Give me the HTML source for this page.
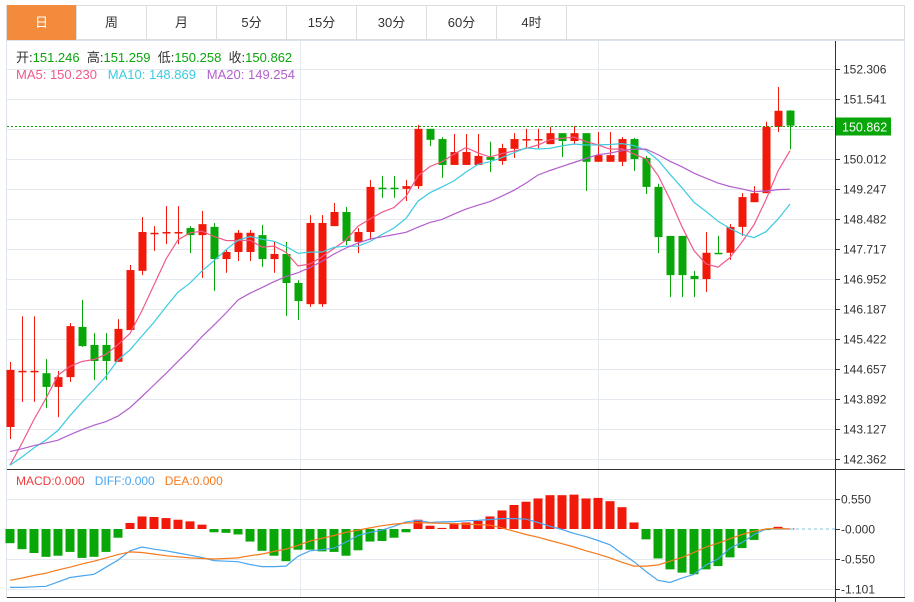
<!DOCTYPE html>
<html><head><meta charset="utf-8"><style>
body{margin:0;background:#fff;font-family:"Liberation Sans","Noto Sans CJK SC",sans-serif;}
#wrap{position:relative;width:914px;height:602px;overflow:hidden;}
.tab{position:absolute;top:5px;height:35px;width:70px;line-height:35px;text-align:center;font-size:13px;color:#333;border-right:1px solid #ddd;box-sizing:border-box;}
</style></head><body>
<div id="wrap">
<div style="position:absolute;left:6px;top:5px;width:899px;height:35px;border:1px solid #ddd;box-sizing:border-box;"></div>
<div class="tab" style="left:7px;background:#f28c3c;color:#fff;">日</div>
<div class="tab" style="left:77px">周</div>
<div class="tab" style="left:147px">月</div>
<div class="tab" style="left:217px">5分</div>
<div class="tab" style="left:287px">15分</div>
<div class="tab" style="left:357px">30分</div>
<div class="tab" style="left:427px">60分</div>
<div class="tab" style="left:497px">4时</div>
<svg id="svg" width="914" height="602" style="position:absolute;left:0;top:0"></svg>
</div>
<script>
const categories=[...Array(66).keys()];
const opens=[143.178,144.61,144.61,144.55,144.20,144.45,145.73,145.27,145.27,144.84,145.65,147.16,148.11,148.15,148.15,148.25,148.07,148.28,147.46,147.64,147.64,148.07,147.46,147.59,146.85,146.31,146.31,148.30,148.66,147.90,148.15,149.28,149.28,149.25,149.32,150.78,150.52,149.86,149.86,149.86,150.06,149.96,150.27,150.50,150.50,150.39,150.67,150.47,150.67,149.94,149.94,149.94,150.52,150.04,149.30,148.05,148.05,147.03,146.95,147.62,147.62,148.28,148.91,149.14,150.83,151.246];
const closes=[144.632,144.61,144.61,144.20,144.45,145.75,145.24,144.86,144.86,145.68,147.18,148.15,148.13,148.15,148.15,148.07,148.35,147.46,147.64,148.13,148.13,147.46,147.59,146.85,146.39,148.38,148.38,148.66,147.92,148.15,149.30,149.25,149.25,149.32,150.78,150.50,149.86,150.19,150.19,150.09,149.99,150.29,150.52,150.52,150.52,150.67,150.47,150.67,149.94,150.11,150.11,150.52,150.01,149.30,148.02,147.05,147.05,146.95,147.62,147.59,148.28,149.04,149.14,150.83,151.24,150.862];
const highs=[144.836,146.0,146.0,144.91,144.61,145.83,146.42,145.57,145.57,145.93,147.31,148.53,148.30,148.81,148.81,148.30,148.69,148.38,147.69,148.20,148.20,148.33,147.90,147.90,146.92,148.58,148.58,148.89,148.79,148.25,149.48,149.58,149.58,149.48,150.88,150.78,150.57,150.65,150.65,150.65,150.45,150.40,150.67,150.78,150.78,150.83,150.67,150.85,150.67,150.70,150.70,150.57,150.55,150.09,149.38,148.05,148.05,147.16,148.15,148.05,148.35,149.14,149.32,150.96,151.85,151.259];
const lows=[142.872,143.82,143.82,143.66,143.43,144.33,145.22,144.38,144.38,144.84,145.65,147.05,147.67,147.84,147.84,147.61,146.98,146.65,147.11,147.41,147.41,147.26,147.11,146.01,145.91,146.24,146.24,148.30,147.82,147.61,147.95,149.02,149.02,148.94,149.25,150.34,149.53,149.86,149.86,149.86,149.68,149.86,150.04,150.29,150.29,150.39,150.06,150.37,149.20,149.94,149.94,149.83,149.71,149.12,147.61,146.49,146.49,146.49,146.62,147.59,147.44,148.05,148.91,149.14,150.70,150.258];
const priorCloses=[143.2,143.0,142.8,143.1,142.9,142.7,142.6,143.0,142.9,142.8,142.5,142.3,142.2,142.0,142.0,141.8,141.6,141.5,141.5];
const priceTicks=[152.306,151.541,150.776,150.012,149.247,148.482,147.717,146.952,146.187,145.422,144.657,143.892,143.127,142.362];
const macdHist=[-0.26,-0.37,-0.44,-0.51,-0.49,-0.42,-0.53,-0.51,-0.42,-0.16,0.11,0.23,0.22,0.20,0.17,0.14,0.08,-0.06,-0.07,-0.10,-0.23,-0.40,-0.49,-0.59,-0.38,-0.38,-0.41,-0.42,-0.49,-0.39,-0.23,-0.22,-0.16,-0.06,0.17,0.06,0.02,0.09,0.12,0.15,0.23,0.34,0.44,0.50,0.56,0.62,0.62,0.63,0.56,0.57,0.51,0.40,0.12,-0.19,-0.54,-0.74,-0.80,-0.83,-0.74,-0.68,-0.52,-0.35,-0.20,-0.02,0.04,0.01];
const diffVals=[-1.07,-1.07,-1.06,-1.05,-0.97,-0.89,-0.86,-0.83,-0.70,-0.57,-0.40,-0.33,-0.37,-0.40,-0.44,-0.48,-0.52,-0.58,-0.59,-0.60,-0.65,-0.69,-0.69,-0.68,-0.50,-0.40,-0.38,-0.35,-0.24,-0.12,-0.06,-0.02,0.05,0.13,0.16,0.12,0.13,0.135,0.15,0.16,0.175,0.19,0.19,0.18,0.12,0.05,-0.01,-0.08,-0.14,-0.21,-0.29,-0.45,-0.60,-0.78,-0.94,-0.98,-0.90,-0.83,-0.66,-0.55,-0.35,-0.25,-0.10,0.0,0.0,0.0];
const deaVals=[-0.94,-0.90,-0.85,-0.81,-0.75,-0.70,-0.64,-0.59,-0.53,-0.47,-0.42,-0.43,-0.46,-0.49,-0.51,-0.53,-0.54,-0.55,-0.54,-0.53,-0.49,-0.46,-0.41,-0.37,-0.30,-0.22,-0.17,-0.12,-0.06,-0.02,0.02,0.06,0.09,0.11,0.115,0.11,0.105,0.10,0.09,0.08,0.07,0.02,-0.04,-0.10,-0.15,-0.21,-0.27,-0.33,-0.40,-0.46,-0.53,-0.61,-0.68,-0.68,-0.66,-0.59,-0.52,-0.43,-0.33,-0.26,-0.18,-0.10,-0.04,0.0,0.01,0.0];
const macdTicks=[0.550,0.000,-0.550,-1.101];
const macdTickLabels=["0.550","-0.000","-0.550","-1.101"];

const NS="http://www.w3.org/2000/svg";
const svg=document.getElementById('svg');
function mk(tag,attrs,parent){const e=document.createElementNS(NS,tag);for(const k in attrs)e.setAttribute(k,attrs[k]);(parent||svg).appendChild(e);return e;}
const xOf=i=>10+12*i;
const yP=v=>459-(v-142.362)*(390/(152.306-142.362));
const yM=v=>529-v*(30/0.55);
const RED="#f2190a",GREEN="#08a608";

let e=mk('rect',{x:6.5,y:40.5,width:898,height:557,fill:'none',stroke:'#dde3ea'});


[300,598].forEach(x=>{const g=mk('line',{x1:x+.5,y1:41,x2:x+.5,y2:597,stroke:'#e3e9ef'});

});
priceTicks.forEach(v=>{const y=Math.round(yP(v))+.5;
const g=mk('line',{x1:7,y1:y,x2:835,y2:y,stroke:'#e3e9ef'});


const t=mk('line',{x1:835,y1:y,x2:840,y2:y,stroke:'#333'});


if(Math.abs(v-150.776)<0.01)return;
const tx=mk('text',{x:843,y:y+4,'font-size':12,fill:'#333'});tx.textContent=v.toFixed(3);

});
macdTicks.forEach((v,k)=>{const y=Math.round(yM(v))+.5;
if(k!==1){const g=mk('line',{x1:7,y1:y,x2:835,y2:y,stroke:'#e3e9ef'});

}
const t=mk('line',{x1:835,y1:y,x2:840,y2:y,stroke:'#333'});


const tx=mk('text',{x:841,y:y+4,'font-size':12,fill:'#333'});tx.textContent=macdTickLabels[k];

});
e=mk('line',{x1:835.5,y1:41,x2:835.5,y2:602,stroke:'#333'});


e=mk('line',{x1:7,y1:469.5,x2:905,y2:469.5,stroke:'#333'});


e=mk('line',{x1:7,y1:597.5,x2:905,y2:597.5,stroke:'#333'});



categories.forEach(i=>{const o=opens[i],c=closes[i],h=highs[i],l=lows[i];
const col=c>=o?RED:GREEN;const x=xOf(i);
const g=mk('g',{});


mk('line',{x1:x+.5,y1:yP(h),x2:x+.5,y2:yP(l),stroke:col},g);
const top=Math.min(yP(o),yP(c)),ht=Math.max(1.5,Math.abs(yP(o)-yP(c)));
mk('rect',{x:x-3.5,y:top,width:8,height:ht,fill:col},g);});

const allC=priorCloses.concat(closes);
function ma(n){return categories.map(i=>{const j=i+priorCloses.length;let s=0;for(let k=j-n+1;k<=j;k++)s+=allC[k];return s/n;});}
[[5,'#f0588a','ma5-line'],[10,'#3ccbe0','ma10-line'],[20,'#b35fcd','ma20-line']].forEach(([n,col,name])=>{
const m=ma(n);const p=mk('polyline',{points:m.map((v,i)=>xOf(i)+','+yP(v).toFixed(1)).join(' '),fill:'none',stroke:col,'stroke-width':1.2});

});

const last=closes[closes.length-1];const ly=Math.round(yP(last))+.5;
e=mk('line',{x1:7,y1:ly,x2:835,y2:ly,stroke:GREEN,'stroke-dasharray':'2,2'});


e=mk('rect',{x:836,y:ly-9,width:55,height:18,fill:GREEN});


e=mk('text',{x:842,y:ly+5,'font-size':12.5,fill:'#fff'});e.textContent=last.toFixed(3);



categories.forEach(i=>{const v=macdHist[i];const y0=yM(0),y1=yM(v);
const r=mk('rect',{x:xOf(i)-4.5,y:Math.min(y0,y1),width:9,height:Math.max(1,Math.abs(y1-y0)),fill:v>=0?RED:GREEN});

});
e=mk('line',{x1:xOf(65),y1:yM(0),x2:835,y2:yM(0),stroke:'#a8d8ee','stroke-dasharray':'3,3','stroke-width':1.5});


e=mk('polyline',{points:diffVals.map((v,i)=>xOf(i)+','+yM(v).toFixed(1)).join(' '),fill:'none',stroke:'#4aa6ee','stroke-width':1.2});


e=mk('polyline',{points:deaVals.map((v,i)=>xOf(i)+','+yM(v).toFixed(1)).join(' '),fill:'none',stroke:'#f47a1e','stroke-width':1.2});



function legend(x,y,parts,name,fs){const t=mk('text',{x:x,y:y,'font-size':fs});


t.style.whiteSpace='pre';
parts.forEach(([s,c])=>{const ts=mk('tspan',{fill:c},t);ts.textContent=s;});}
legend(16,62,[["开:","#333"],["151.246  ","#0aa50a"],["高:","#333"],["151.259  ","#0aa50a"],["低:","#333"],["150.258  ","#0aa50a"],["收:","#333"],["150.862","#0aa50a"]],'ohlc-legend',13);
legend(16,79,[["MA5: 150.230   ","#f0588a"],["MA10: 148.869   ","#3ccbe0"],["MA20: 149.254","#b35fcd"]],'ma-legend',13);
legend(16,485,[["MACD:0.000   ","#f03c3c"],["DIFF:0.000   ","#4aa6ee"],["DEA:0.000","#f47a1e"]],'macd-legend',12);
</script>
</body></html>
